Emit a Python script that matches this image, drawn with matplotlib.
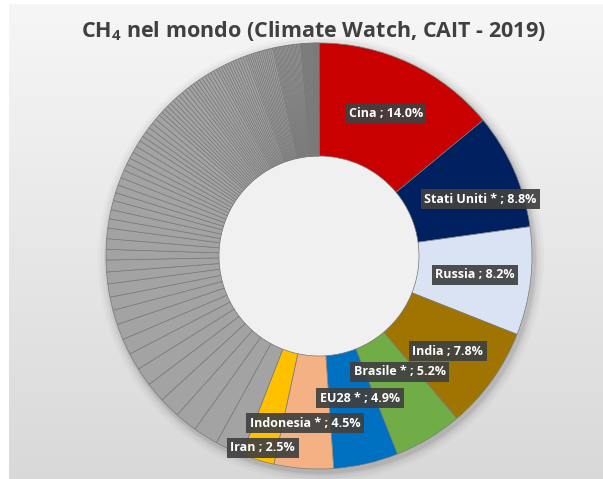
import numpy as np
import matplotlib
matplotlib.use("Agg")
import matplotlib.pyplot as plt
from matplotlib.patches import Circle

plt.rcParams["mathtext.fontset"] = "custom"
plt.rcParams["mathtext.rm"] = "Open Sans:bold"
plt.rcParams["mathtext.it"] = "Open Sans:bold"
plt.rcParams["mathtext.bf"] = "Open Sans:bold"

# ---- data ----
countries = ["Cina", "Stati Uniti *", "Russia", "India", "Brasile *", "EU28 *", "Indonesia *", "Iran"]
shares = [14.0, 8.8, 8.2, 7.8, 5.2, 4.9, 4.5, 2.5]
country_colors = ["#c80000", "#002060", "#dae3f3", "#a07400", "#70ad47", "#0070c0", "#f4b183", "#ffc000"]

other_shares = [2.1, 1.9, 1.7, 1.6, 1.5, 1.4, 1.3, 1.2, 1.2, 1.1, 1.0, 1.0, 0.9, 0.9,
                0.8, 0.8, 0.8, 0.7, 0.7, 0.7, 0.6, 0.6, 0.6, 0.6,
                0.5, 0.5, 0.5, 0.5, 0.5, 0.4, 0.4, 0.4, 0.4, 0.4, 0.4,
                0.3, 0.3, 0.3, 0.3, 0.3, 0.3, 0.3, 0.3, 0.3, 0.3,
                0.25, 0.25, 0.25, 0.25, 0.25, 0.25, 0.25, 0.25, 0.25, 0.25,
                0.2, 0.2, 0.2, 0.2, 0.2, 0.2, 0.2, 0.2, 0.2, 0.2, 0.2, 0.2,
                0.15, 0.15, 0.15, 0.15, 0.15, 0.15, 0.15, 0.15, 0.15, 0.15, 0.15, 0.15, 0.15, 0.15,
                0.1, 0.1, 0.1, 0.1, 0.1, 0.1, 0.1, 0.1, 0.1, 0.1, 0.1, 0.1, 0.1, 0.1,
                0.1, 0.1, 0.1, 0.1, 0.1, 0.1, 0.1,
                0.05, 0.05, 0.05, 0.05, 0.05, 0.05, 0.05, 0.05, 0.05, 0.05,
                0.05, 0.05, 0.05, 0.05, 0.05, 0.05, 0.05, 0.05, 0.05, 0.05,
                0.02, 0.02, 0.02, 0.02, 0.02, 0.02, 0.02, 0.02, 0.02, 0.02,
                0.02, 0.02, 0.02, 0.02, 0.02, 0.02, 0.02, 0.02, 0.02, 0.02]
other_color = "#a3a3a3"

title = "CH$_4$ nel mondo (Climate Watch, CAIT - 2019)"

# ---- layout ----
W, H = 603, 479
cx, cy = 319, 479 - 256
R_out, R_in = 213, 100
label_radius = [157, 171, 157, 160, 141, 148, 168, 200]
label_angle_shift = [0.0, 4.3, 0.1, 0.8, -3.9, -3.3, 0.7, -0.4]

fig = plt.figure(figsize=(W / 100, H / 100), dpi=100)
fig.patch.set_facecolor("white")

# gradient background panel
bg = fig.add_axes([9 / W, 0, (W - 9) / W, (H - 4) / H])
grad = np.linspace(0, 1, 256).reshape(-1, 1)
top_c = np.array([0.965, 0.965, 0.965])
bot_c = np.array([0.85, 0.85, 0.85])
img = top_c + (bot_c - top_c) * grad[:, :, None]
bg.imshow(np.repeat(img, 2, axis=1), aspect="auto", extent=[0, 1, 0, 1], origin="upper")
bg.axis("off")

ax = fig.add_axes([0, 0, 1, 1])
ax.set_facecolor("none")

# soft shadow
for k, a in [(10, 0.025), (7, 0.035), (4, 0.05), (2, 0.07)]:
    ax.add_patch(Circle((cx + 2, cy - 3), R_out + k, color="black", alpha=a, lw=0, zorder=0))
# lighter hole
ax.add_patch(Circle((cx, cy), R_in, color="#f0f0f0", lw=0, zorder=0.5))

values = shares + other_shares
colors = country_colors + [other_color] * len(other_shares)
wedges, _ = ax.pie(values, colors=colors, startangle=90, counterclock=False,
                   center=(cx, cy), radius=R_out,
                   wedgeprops=dict(width=R_out - R_in, edgecolor="#7a7a7a", linewidth=0.5))
for w in wedges:
    w.set_zorder(2)

total = sum(values)
cum = 0.0
for name, s, rl, da in zip(countries, shares, label_radius, label_angle_shift):
    mid = cum + s / 2
    cum += s
    th = np.deg2rad(90 - 360 * mid / total - da)
    x = cx + rl * np.cos(th)
    y = cy + rl * np.sin(th)
    ax.text(x, y, f"{name} ; {s:.1f}%", ha="center", va="center", color="white",
            fontsize=9, fontweight="bold", family="Open Sans", zorder=5,
            bbox=dict(boxstyle="square,pad=0.28", facecolor="#404040", edgecolor="none", alpha=0.92))

ax.set_xlim(0, W)
ax.set_ylim(0, H)
ax.set_aspect("equal")
ax.axis("off")

fig.text(313 / W, 1 - 31 / H, title, ha="center", va="center", fontsize=15.5,
         fontweight="bold", color="#404040", family="Open Sans")

fig.savefig("out.png", dpi=100)
